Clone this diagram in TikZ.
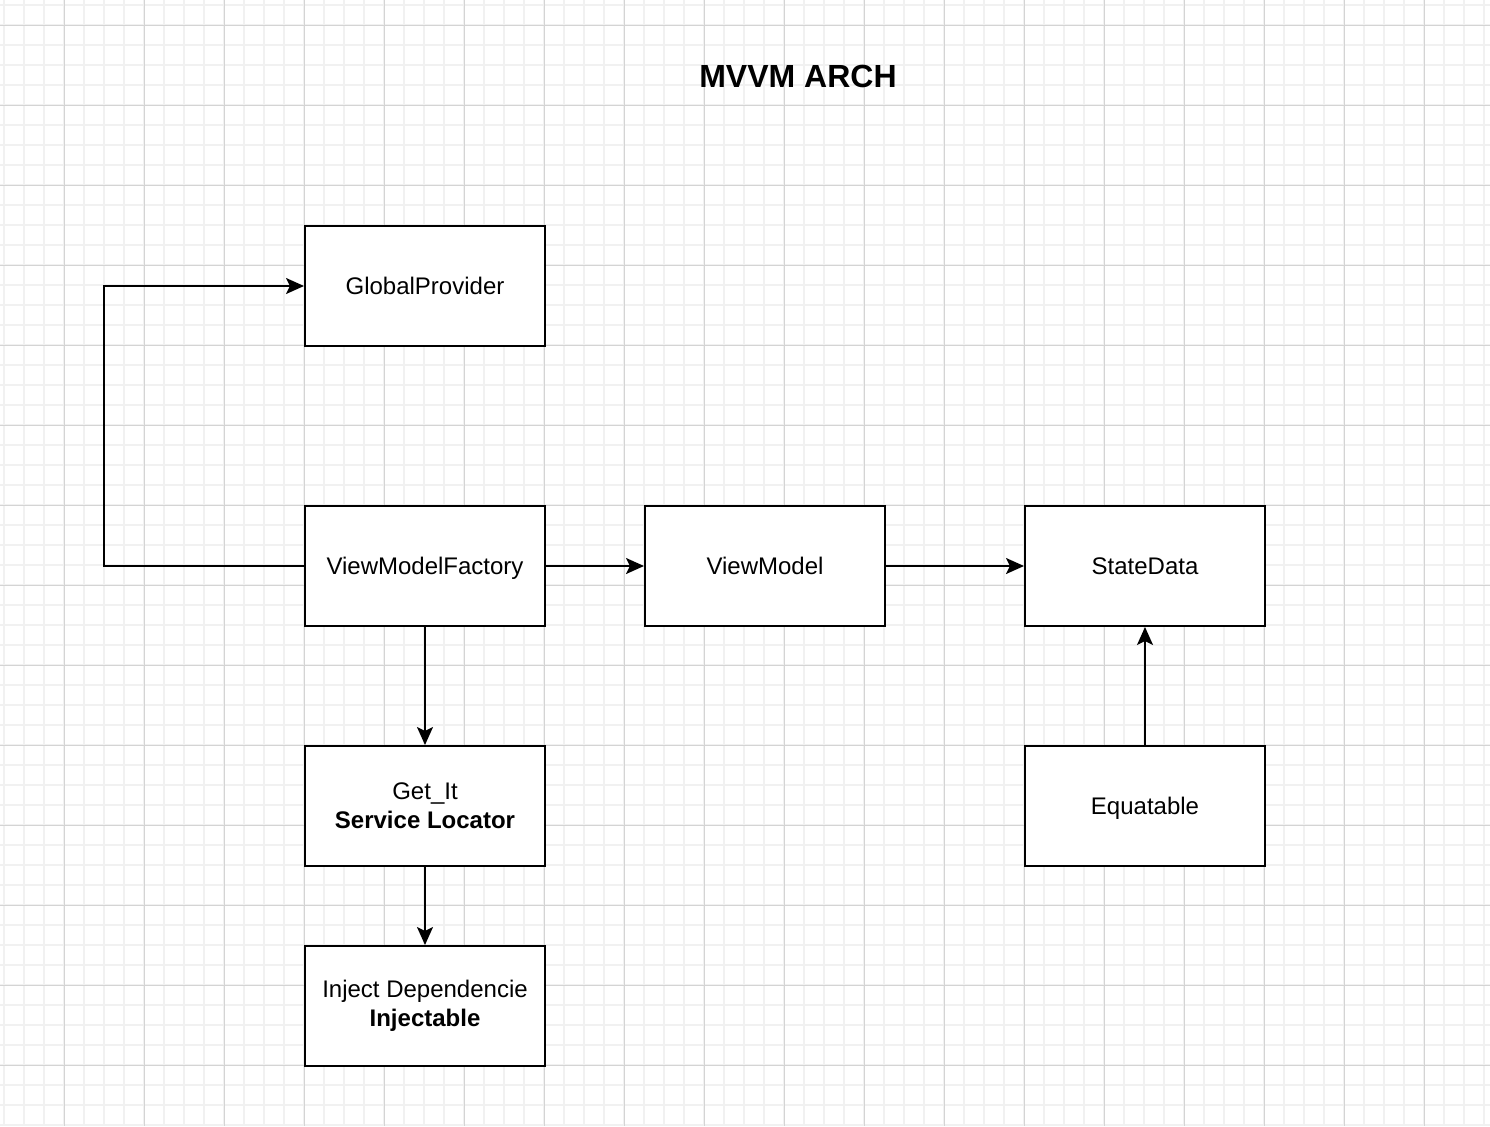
\documentclass[tikz,border=0pt]{standalone}
\usepackage{fontspec}
\setmainfont{Liberation Sans}
\usetikzlibrary{positioning, arrows.meta}
\definecolor{gridminor}{RGB}{241,241,241}
\definecolor{gridmajor}{RGB}{212,212,212}

\begin{document}
\begin{tikzpicture}[
          x = 0.5pt, y = -0.5pt,
          line width = 1pt,
          >={Stealth[length=9pt, width=8pt, inset=2pt]},
          font = \fontsize{12}{14.5}\selectfont
        ]
          \tikzstyle {block} = [draw, shape = rectangle, fill = white, minimum width = 120pt, minimum height = 60pt, inner sep = 0, align = center]
          \tikzstyle {oneline} = [block, text depth = 0pt]
          \tikzstyle {title} = [font = \fontsize{16}{19}\selectfont\bfseries]
          % background grid
          \useasboundingbox (0,0) rectangle (1490,1126);
          \fill [white] (0,0) rectangle (1490,1126);
          \foreach \x in {4,24,...,1484}
            { \draw [gridminor, line width = 1pt] (\x,0) -- (\x,1126) ; } ;
          \foreach \y in {5,25,...,1125}
            { \draw [gridminor, line width = 1pt] (0,\y) -- (1490,\y) ; } ;
          \foreach \x in {64,144,...,1424}
            { \draw [gridmajor, line width = 0.5pt] (\x,0) -- (\x,1126) ; } ;
          \foreach \y in {25,105,...,1065}
            { \draw [gridmajor, line width = 0.5pt] (0,\y) -- (1490,\y) ; } ;
          % place nodes
          \path node (head) [title] at (798,76) {MVVM ARCH};
          \path node (gp) [oneline] at (425,286) {GlobalProvider};
          \path node (vmf) [oneline] at (425,566) {ViewModelFactory};
          \path node (vm) [oneline] at (765,566) {ViewModel};
          \path node (sd) [oneline] at (1145,566) {StateData};
          \path node (getit) [block] at (425,806) {Get\_It\\\textbf{Service Locator}};
          \path node (inj) [block] at (425,1006) {Inject Dependencie\\\textbf{Injectable}};
          \path node (eq) [oneline] at (1145,806) {Equatable};
          % place edges
          \foreach \a/\b in {vmf/vm, vm/sd, vmf/getit, getit/inj, eq/sd}
            { \draw [->] (\a) -- (\b) ; } ;
          \draw [->] (vmf.west) -- ++(-200,0) |- (gp.west);
        \end{tikzpicture}
\end{document}
